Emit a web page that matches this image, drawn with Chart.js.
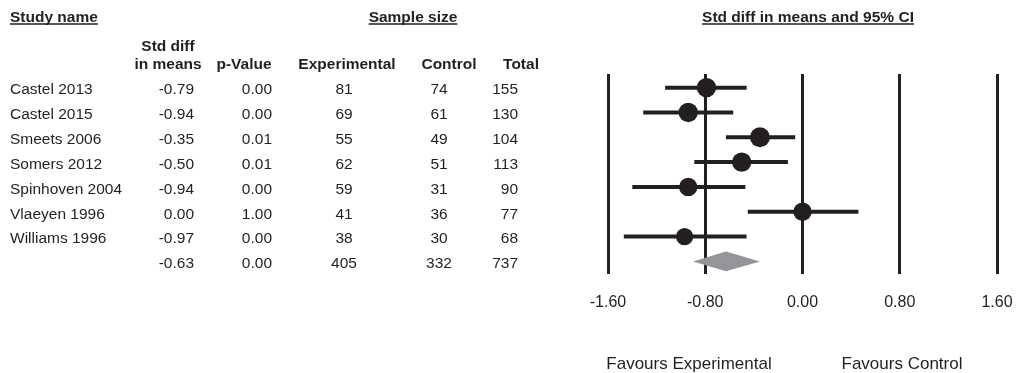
<!DOCTYPE html>
<html>
<head>
<meta charset="utf-8">
<script src="https://cdn.jsdelivr.net/npm/chart.js@4"></script>
<style>
  html, body { margin: 0; padding: 0; background: #fff; }
  #wrap { width: 1017px; height: 373px; position: relative; }
</style>
</head>
<body>
<div id="wrap"><canvas id="forestChart"></canvas></div>
<script>
// study data
const studies = ['Castel 2013', 'Castel 2015', 'Smeets 2006', 'Somers 2012', 'Spinhoven 2004', 'Vlaeyen 1996', 'Williams 1996'];
const stdDiff = [-0.79, -0.94, -0.35, -0.50, -0.94, 0.00, -0.97];
const ciLower = [-1.13, -1.31, -0.63, -0.89, -1.40, -0.45, -1.47];
const ciUpper = [-0.46, -0.57, -0.06, -0.12, -0.47, 0.46, -0.46];
const pValues = ['0.00', '0.00', '0.01', '0.01', '0.00', '1.00', '0.00'];
const nExperimental = [81, 69, 55, 62, 59, 41, 38];
const nControl = [74, 61, 49, 51, 31, 36, 30];
const nTotal = [155, 130, 104, 113, 90, 77, 68];
const relWeight = [15, 15, 16, 15, 13.5, 13.5, 12];

// pooled row
const pooled = { est: -0.63, lower: -0.90, upper: -0.35, p: '0.00', exp: 405, ctl: 332, total: 737 };

const xTicks = [-1.6, -0.8, 0, 0.8, 1.6];

const ink = '#231f20';
const diamondGrey = '#939598';
const font = '"Liberation Sans", Arial, Helvetica, sans-serif';

const pooledRow = studies.length;

const ciDatasets = studies.map((s, i) => ({
    type: 'line',
    label: s + ' CI',
    data: [{ x: ciLower[i], y: i }, { x: ciUpper[i], y: i }],
    borderColor: ink,
    borderWidth: 4,
    pointRadius: 0,
    borderCapStyle: 'butt'
}));

const tablePlugin = {
    id: 'tablePlugin',
    afterDraw(chart) {
        const ctx = chart.ctx;
        const y = chart.scales.y;
        ctx.save();
        ctx.fillStyle = ink;
        ctx.strokeStyle = ink;
        ctx.textBaseline = 'middle';

        function txt(s, px, py, align, bold, size) {
            ctx.font = (bold ? 'bold ' : '') + (size || 15.5) + 'px ' + font;
            ctx.textAlign = align;
            ctx.fillText(s, px, py);
        }
        function underline(s, px, py, align) {
            ctx.font = 'bold 15.5px ' + font;
            const w = ctx.measureText(s).width;
            let left = px;
            if (align === 'center') left = px - w / 2;
            if (align === 'right') left = px - w;
            txt(s, px, py, align, true);
            ctx.lineWidth = 1.6;
            ctx.beginPath();
            ctx.moveTo(left, py + 6.5);
            ctx.lineTo(left + w, py + 6.5);
            ctx.stroke();
        }

        underline('Study name', 10, 17.5, 'left');
        underline('Sample size', 413, 17.5, 'center');
        underline('Std diff in means and 95% CI', 808, 17.5, 'center');

        txt('Std diff', 168, 47, 'center', true);
        txt('in means', 168, 65, 'center', true);
        txt('p-Value', 244, 65, 'center', true);
        txt('Experimental', 347, 65, 'center', true);
        txt('Control', 449, 65, 'center', true);
        txt('Total', 521, 65, 'center', true);

        studies.forEach((s, i) => {
            const py = y.getPixelForValue(i) + 2.5;
            txt(s, 10, py, 'left');
            txt(stdDiff[i].toFixed(2), 194, py, 'right');
            txt(pValues[i], 272, py, 'right');
            txt(String(nExperimental[i]), 344, py, 'center');
            txt(String(nControl[i]), 439, py, 'center');
            txt(String(nTotal[i]), 518, py, 'right');
        });
        const py = y.getPixelForValue(pooledRow) + 2.5;
        txt(pooled.est.toFixed(2), 194, py, 'right');
        txt(pooled.p, 272, py, 'right');
        txt(String(pooled.exp), 344, py, 'center');
        txt(String(pooled.ctl), 439, py, 'center');
        txt(String(pooled.total), 518, py, 'right');

        txt('Favours Experimental', 689, 364, 'center', false, 17);
        txt('Favours Control', 902, 364, 'center', false, 17);
        ctx.restore();
    }
};

new Chart(document.getElementById('forestChart'), {
    type: 'scatter',
    data: {
        datasets: [
            {
                label: 'Std diff in means',
                data: studies.map((s, i) => ({ x: stdDiff[i], y: i })),
                backgroundColor: ink,
                borderWidth: 0,
                pointRadius: relWeight.map(w => Math.sqrt(w) * 2.5),
                pointHoverRadius: relWeight.map(w => Math.sqrt(w) * 2.5)
            },
            ...ciDatasets,
            {
                type: 'line',
                label: 'Pooled',
                data: [
                    { x: pooled.lower, y: pooledRow },
                    { x: pooled.est, y: pooledRow - 0.4 },
                    { x: pooled.upper, y: pooledRow },
                    { x: pooled.est, y: pooledRow + 0.4 },
                    { x: pooled.lower, y: pooledRow }
                ],
                borderWidth: 0,
                borderColor: diamondGrey,
                backgroundColor: diamondGrey,
                pointRadius: 0,
                fill: 'shape',
                tension: 0
            }
        ]
    },
    options: {
        responsive: true,
        maintainAspectRatio: false,
        animation: false,
        layout: { padding: { left: 608, right: 20, top: 74, bottom: 42 } },
        plugins: { legend: { display: false }, tooltip: { enabled: false } },
        scales: {
            x: {
                type: 'linear',
                min: -1.6,
                max: 1.6,
                afterBuildTicks: axis => { axis.ticks = xTicks.map(v => ({ value: v })); },
                // tick padding also widens the side padding, undo that
                afterFit: axis => { axis.paddingRight = 16; },
                border: { display: false },
                grid: { color: ink, lineWidth: 3, drawTicks: false },
                ticks: {
                    color: ink,
                    padding: 19,
                    font: { family: font, size: 16 },
                    callback: v => v.toFixed(2)
                }
            },
            y: {
                type: 'linear',
                display: false,
                reverse: true,
                min: -0.55,
                max: 7.5
            }
        }
    },
    plugins: [tablePlugin]
});
</script>
</body>
</html>
